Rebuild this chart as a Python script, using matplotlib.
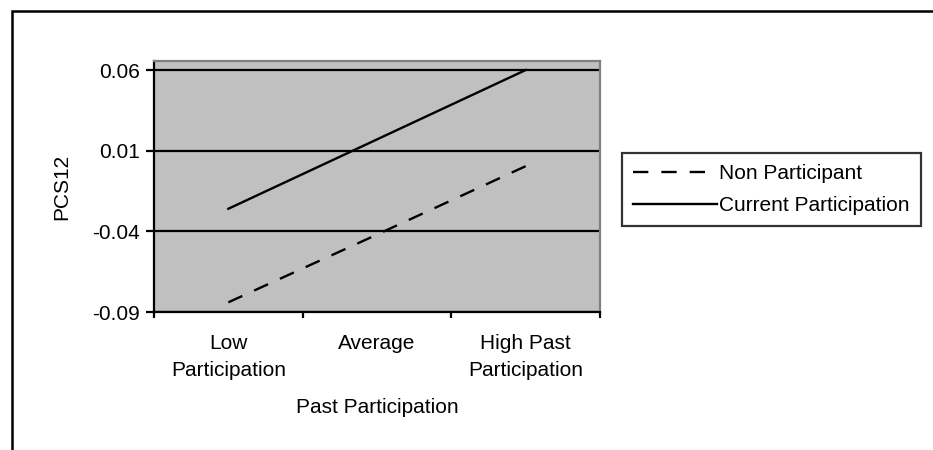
import matplotlib.pyplot as plt
from matplotlib.patches import Rectangle
from matplotlib.ticker import FixedLocator, NullFormatter

plt.rcParams['font.family'] = ['Liberation Sans', 'DejaVu Sans']

# data
categories = ['Low\nParticipation', 'Average', 'High Past\nParticipation']
non_participant = [-0.084, -0.042, 0.0004]
current_participation = [-0.026, 0.017, 0.060]
yticks = [-0.09, -0.04, 0.01, 0.06]

fig = plt.figure(figsize=(9.33, 4.5), dpi=100)

# outer chart frame (clipped at right/bottom like the source)
fig.patches.append(Rectangle((12 / 933, -0.1), 1.2, 1 - 11 / 450 + 0.1,
                             transform=fig.transFigure, fill=False,
                             edgecolor='black', linewidth=1.8))

ax = fig.add_axes([154 / 933, 138 / 450, 446 / 933, 251 / 450])
ax.set_facecolor('#c0c0c0')

x = list(range(len(categories)))
ax.plot(x, non_participant, color='black', linewidth=1.7, dashes=(6.5, 5.5),
        label='Non Participant')
ax.plot(x, current_participation, color='black', linewidth=1.7,
        label='Current Participation')

ax.set_xlim(-0.5, len(categories) - 0.5)
ax.set_ylim(-0.09, 0.0656)

# gridlines
for y in yticks:
    ax.axhline(y, color='black', linewidth=1.6, zorder=1)

ax.set_yticks(yticks)
ax.set_yticklabels(['%.2f' % v for v in yticks])
ax.xaxis.set_major_locator(FixedLocator([-0.5, 0.5, 1.5, 2.5]))
ax.xaxis.set_major_formatter(NullFormatter())
ax.xaxis.set_minor_locator(FixedLocator(x))
ax.set_xticklabels(categories, minor=True, linespacing=1.5)

ax.tick_params(axis='y', which='major', direction='out', length=6, width=1.6,
               labelsize=15, pad=4)
ax.tick_params(axis='x', which='major', direction='out', length=4.5, width=1.6)
ax.tick_params(axis='x', which='minor', length=0, labelsize=15, pad=16)

for s in ['left', 'bottom']:
    ax.spines[s].set_linewidth(1.6)
    ax.spines[s].set_color('black')
for s in ['top', 'right']:
    ax.spines[s].set_linewidth(1.6)
    ax.spines[s].set_color('#808080')

ax.set_ylabel('PCS12', fontsize=15, labelpad=15)
ax.set_xlabel('Past Participation', fontsize=15, labelpad=13)

leg = ax.legend(loc='upper left', bbox_to_anchor=(622 / 933, 1 - 153 / 450),
                bbox_transform=fig.transFigure, fontsize=15, frameon=True,
                fancybox=False, handlelength=4.0, handletextpad=0.1,
                borderpad=0.55, labelspacing=0.6, borderaxespad=0)
leg.get_frame().set_edgecolor('black')
leg.get_frame().set_linewidth(1.6)

plt.savefig('out.png', dpi=100)
